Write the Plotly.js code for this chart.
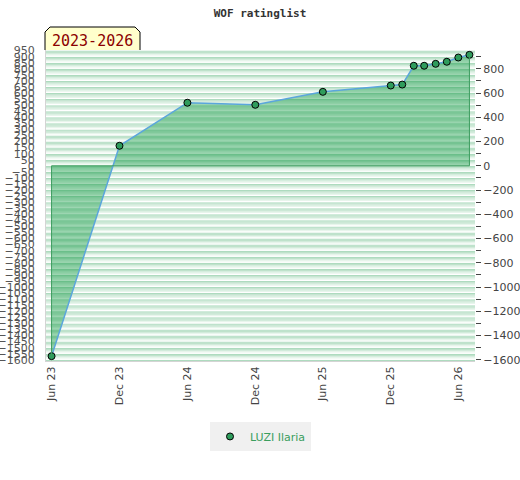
<!DOCTYPE html>
<html>
<head>
<meta charset="utf-8">
<script src="https://cdn.plot.ly/plotly-3.0.1.min.js"></script>
<style>html,body{margin:0;padding:0;background:#fff;}#chart{width:520px;height:480px;}</style>
</head>
<body>
<div id="chart"></div>
<script>
// Data
const dates = ['2023-06-01','2023-12-01','2024-06-01','2024-12-01','2025-06-01','2025-12-01',
               '2026-01-01','2026-02-01','2026-03-01','2026-04-01','2026-05-01','2026-06-01','2026-07-01'];
const ratings = [-1570, 165, 520, 503, 610, 662, 670, 825, 825, 841, 858, 893, 915];
const playerName = 'LUZI Ilaria';
const chartTitle = 'WOF ratinglist';
const periodLabel = '2023-2026';

const yMin = -1610, yMax = 955;

// background stripes (style only)
const stripeColors = ['#ffffff','#e8f5ec','#d2ebdb','#bfe2cb','#aedbbf'];
const shapes = [];
for (let k = -1650; k < 1000; k += 50) {
  for (let s = 0; s < stripeColors.length; s++) {
    shapes.push({type:'rect', xref:'paper', yref:'y', x0:0, x1:1,
      y0:k + s*10, y1:k + (s+1)*10, fillcolor:stripeColors[s], line:{width:0}, layer:'below'});
  }
}
// period label box
shapes.push({type:'path', xref:'paper', yref:'paper', xsizemode:'pixel', ysizemode:'pixel',
  xanchor:0, yanchor:1, path:'M -1,0 L -1,18 L 4,23 L 89,23 L 94,18 L 94,0',
  fillcolor:'#ffffcc', line:{color:'#000', width:1}, layer:'above'});

const n = dates.length;
const traces = [
  {x:dates, y:ratings, type:'scatter', mode:'lines', fill:'tozeroy',
   fillcolor:'rgba(8,149,60,0.40)', line:{color:'#5ba6dc', width:1.5},
   showlegend:false, hoverinfo:'skip'},
  {x:[dates[0], dates[0], dates[n-1], dates[n-1]], y:[ratings[0], 0, 0, ratings[n-1]],
   yaxis:'y2', type:'scatter', mode:'lines', line:{color:'#3c9c5e', width:1},
   showlegend:false, hoverinfo:'skip'},
  {x:dates, y:ratings, type:'scatter', mode:'markers', name:playerName,
   marker:{color:'#2f9c5c', size:7, line:{color:'#000', width:1}}}
];

const tickFont = {family:'DejaVu Sans', size:11, color:'#444'};
const layout = {
  width:520, height:480,
  margin:{l:46, r:45, t:50, b:119},
  paper_bgcolor:'#fff', plot_bgcolor:'#fff',
  title:{text:chartTitle, x:0.5, xanchor:'center', y:0.973, yanchor:'middle',
    font:{family:'DejaVu Sans Mono', size:11, color:'#333', weight:'bold'}},
  xaxis:{type:'date', range:['2023-05-17','2026-07-16'], tick0:'2023-06-01', dtick:'M6',
    tickformat:'%b %y', tickangle:-90, tickfont:tickFont, showgrid:false, zeroline:false,
    showline:true, linecolor:'#d4d4d4', ticks:'', fixedrange:true},
  yaxis:{range:[yMin, yMax], tick0:0, dtick:50, tickfont:{family:'DejaVu Sans', size:11, color:'#555'},
    showgrid:false, zeroline:false, showline:true, linecolor:'#d4d4d4', ticks:'',
    ticklabelstandoff:8},
  yaxis2:{range:[yMin, yMax], overlaying:'y', side:'right', tick0:0, dtick:200,
    tickfont:tickFont, showgrid:false, zeroline:false, ticks:'outside', ticklen:5,
    tickcolor:'#444', minor:{dtick:100, ticks:'outside', ticklen:5, tickcolor:'#444'}},
  legend:{orientation:'h', x:0.5, xanchor:'center', y:-0.196, yanchor:'top',
    bgcolor:'#f0f0f0', font:{family:'DejaVu Sans', size:11, color:'#3a9e5e'}},
  shapes:shapes,
  annotations:[{xref:'paper', yref:'paper', x:0, y:1, xshift:46, yshift:9.5,
    xanchor:'center', yanchor:'middle', showarrow:false, text:periodLabel,
    font:{family:'DejaVu Sans Mono', size:15, color:'#8b0000'}}]
};

Plotly.newPlot('chart', traces, layout, {staticPlot:true});
</script>
</body>
</html>
